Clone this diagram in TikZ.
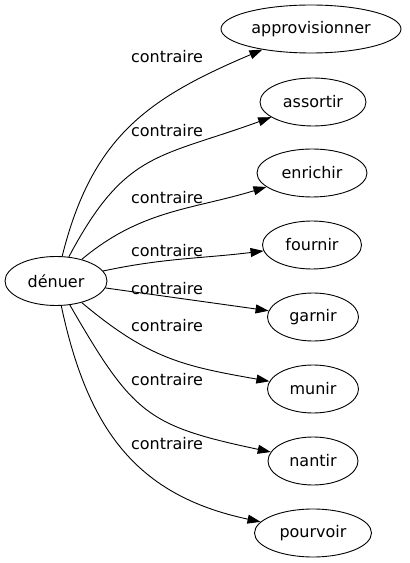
\documentclass[tikz,border=0pt]{standalone}
\usepackage{fontspec}
\setmainfont{DejaVu Sans}
\usetikzlibrary{arrows.meta}
\usetikzlibrary{shapes.geometric}

\begin{document}
\begin{tikzpicture}[x=1pt, y=1pt,
    word/.style={ellipse, draw, line width=0.9pt, inner sep=0pt, minimum height=48pt, font=\fontsize{16}{19}\selectfont},
    rel/.style={inner sep=0pt, font=\fontsize{16}{19}\selectfont},
    edge/.style={line width=0.9pt, -{Triangle[length=13pt, width=9pt]}}]
      \useasboundingbox (0,0) rectangle (410,563);

      \node[word, minimum width=102pt, minimum height=49pt] (denuer) at (56,282) {dénuer};
      \node[word, minimum width=180pt] (approvisionner) at (311,534) {approvisionner};
      \node[word, minimum width=106pt] (assortir) at (313,461) {assortir};
      \node[word, minimum width=110pt] (enrichir) at (312,390) {enrichir};
      \node[word, minimum width=99pt] (fournir) at (312,318) {fournir};
      \node[word, minimum width=91pt] (garnir) at (313,246) {garnir};
      \node[word, minimum width=91pt] (munir) at (313,174) {munir};
      \node[word, minimum width=90pt] (nantir) at (313,102) {nantir};
      \node[word, minimum width=117pt] (pourvoir) at (313,30) {pourvoir};

      \node[rel] (r1) at (167,506) {contraire};
      \node[rel] (r2) at (167,432) {contraire};
      \node[rel] (r3) at (167,365) {contraire};
      \node[rel] (r4) at (167,312) {contraire};
      \node[rel] (r5) at (167,274) {contraire};
      \node[rel] (r6) at (167,237) {contraire};
      \node[rel] (r7) at (167,183) {contraire};
      \node[rel] (r8) at (167,119) {contraire};

      \draw[edge] (denuer) to[out=76, in=203, looseness=1.1] (approvisionner);
      \draw[edge] (denuer) to[out=62, in=200, looseness=1.25] (assortir);
      \draw[edge] (denuer) to[out=40, in=197] (enrichir);
      \draw[edge] (denuer) to[out=12, in=187] (fournir);
      \draw[edge] (denuer) to[out=-8, in=172] (garnir);
      \draw[edge] (denuer) to[out=-40, in=170, looseness=1.1] (munir);
      \draw[edge] (denuer) to[out=-60, in=168, looseness=1.3] (nantir);
      \draw[edge] (denuer) to[out=-78, in=168, looseness=1.1] (pourvoir);
\end{tikzpicture}
\end{document}
